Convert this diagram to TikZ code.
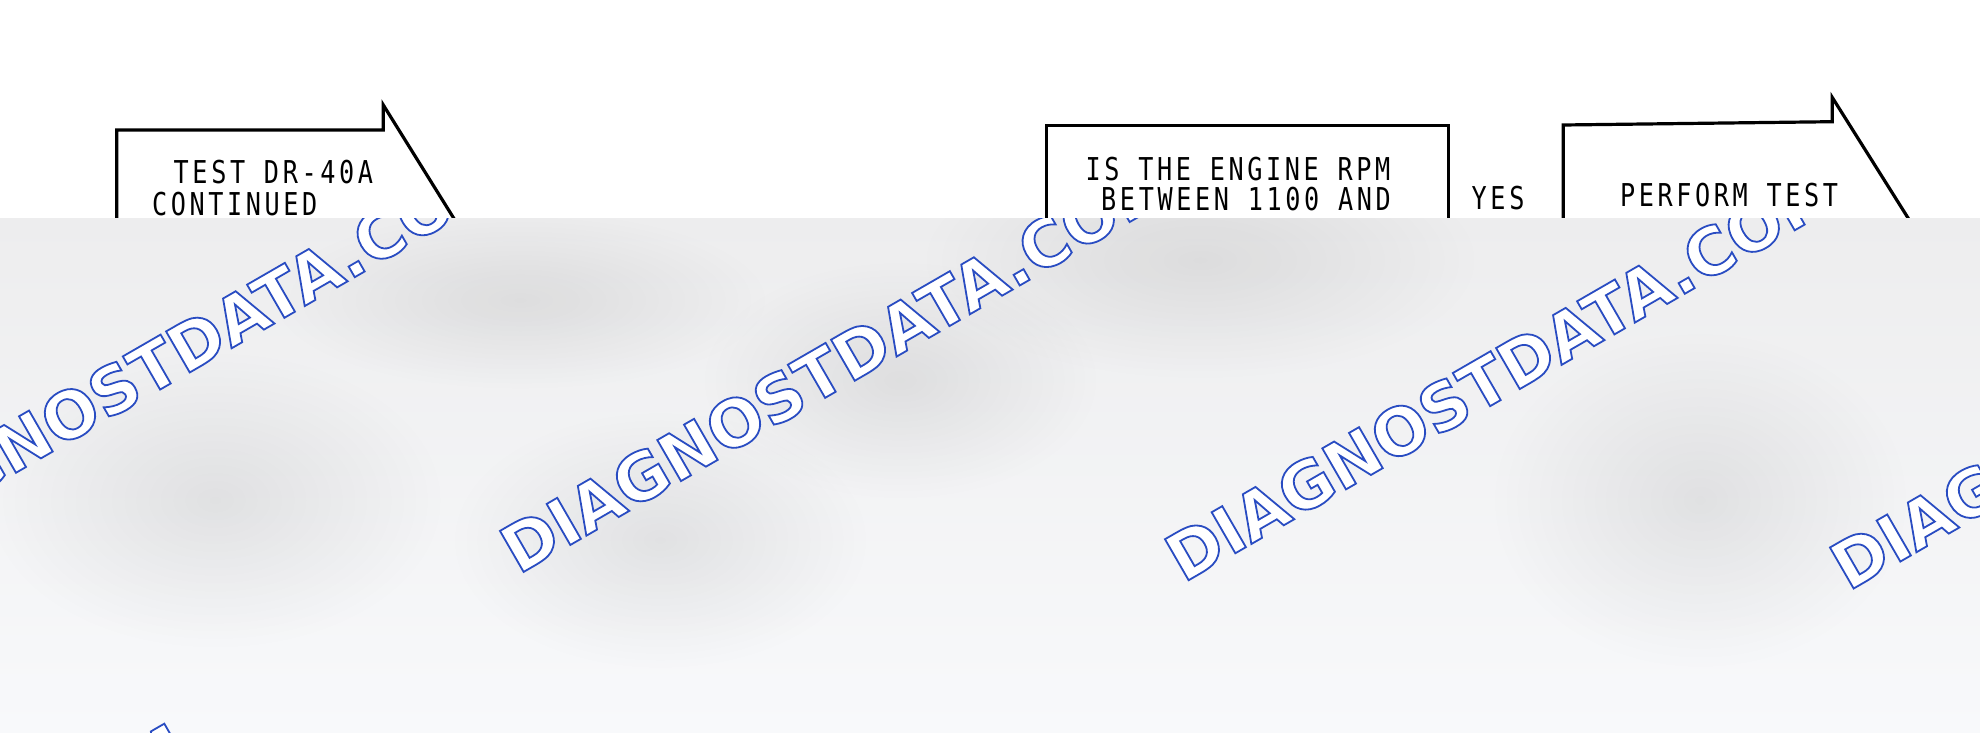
\documentclass[tikz,border=0pt]{standalone}
\usepackage{fontspec}
\usetikzlibrary{fadings}
\newfontfamily\plotfont[FakeStretch=0.8,LetterSpace=11.5]{DejaVu Sans Mono}
\newfontfamily\wmfont{DejaVu Sans}
\definecolor{ovtop}{RGB}{237,237,238}
\definecolor{ovbot}{RGB}{248,249,251}
\tikzfading[name=softblob, inner color=transparent!0, outer color=transparent!100]
\newcommand\wmword{\special{pdf:literal direct 2 Tr 1.8 w 0.16 0.30 0.76 RG}DIAGNOSTDATA.COM\special{pdf:literal direct 0 Tr}}
\tikzset{
  boxline/.style={line width=3.2bp, line join=miter, draw=black},
  plot/.style={inner sep=0pt, anchor=base west, font=\plotfont\fontsize{31.6}{38}\selectfont, text=black},
  wm/.style={inner sep=0pt, anchor=base west, rotate=30, text=white, font=\wmfont\bfseries\fontsize{65.2}{70}\selectfont},
  blob/.style={fill=black, opacity=0.075, path fading=softblob}
}
\begin{document}
\begin{tikzpicture}[x=1bp,y=-1bp]
\useasboundingbox (0,0) rectangle (1980,733);
\fill[white] (0,0) rectangle (1980,733);
% box outlines
\draw[boxline] (116.7,300) -- (116.7,130) -- (383.3,130) -- (383.3,105) -- (501.5,295);
\draw[boxline] (1046.7,300) -- (1046.7,125.7) -- (1448.5,125.7) -- (1448.5,300);
\draw[boxline] (1563.3,300) -- (1563.3,125) -- (1832.3,121.7) -- (1832.3,97.5) -- (1920,237);
% texts
\node[plot] (a1) at (173.5,183.3) {TEST DR-40A};
\node[plot] (a2) at (151.8,215) {CONTINUED};
\node[plot] (b1) at (1085.4,180.7) {IS THE ENGINE RPM};
\node[plot] (b2) at (1101,210) {BETWEEN 1100 AND};
\node[plot] (yes) at (1471.5,209.3) {YES};
\node[plot] (c1) at (1619.8,206.7) {PERFORM TEST};
% blurred cover
\shade[top color=ovtop, bottom color=ovbot] (0,218.5) rectangle (1980,733);
\begin{scope}
\clip (0,218.5) rectangle (1980,733);
\fill[blob] (215,500) ellipse (230 and 150);
\fill[blob] (660,540) ellipse (210 and 130);
\fill[blob] (1200,260) ellipse (280 and 120);
\fill[blob] (900,380) ellipse (200 and 120);
\fill[blob] (1700,500) ellipse (210 and 170);
\fill[blob] (520,300) ellipse (250 and 90);
\node[wm] (w1) at (-146.7,566.7) {\wmword};
\node[wm] (w2) at (518.3,575) {\wmword};
\node[wm] (w3) at (1183.3,583.3) {\wmword};
\node[wm] (w4) at (1848.3,591.6) {\wmword};
\node[wm] (w5) at (-469,1144) {\wmword};
\end{scope}
\end{tikzpicture}
\end{document}
